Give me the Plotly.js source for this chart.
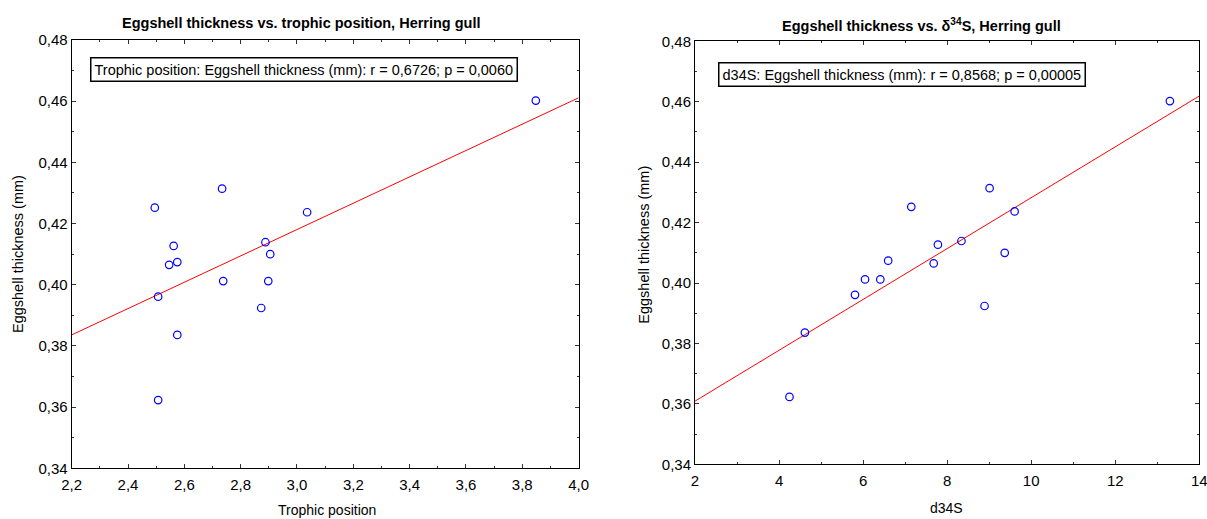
<!DOCTYPE html>
<html>
<head>
<meta charset="utf-8">
<script src="https://cdn.plot.ly/plotly-3.0.1.min.js"></script>
<style>html,body{margin:0;padding:0;background:#fff;}#chart{width:1207px;height:519px;}</style>
</head>
<body>
<div id="chart"></div>
<script>
// Eggshell thickness (mm), one value per egg
const thickness = [0.4602, 0.4252, 0.4314, 0.4237, 0.4127, 0.4139, 0.4100, 0.4065, 0.4074, 0.4012, 0.4012, 0.3961, 0.3924, 0.3836, 0.3623];
// Trophic position of the same eggs
const trophicPosition = [3.848, 2.495, 2.734, 3.036, 2.562, 2.888, 2.905, 2.546, 2.575, 2.738, 2.898, 2.507, 2.873, 2.575, 2.507];
// d34S of the same eggs
const d34S = [13.30, 7.147, 9.01, 9.606, 7.78, 8.34, 9.37, 7.68, 6.597, 6.046, 6.41, 5.807, 8.89, 4.615, 4.248];
// Regression lines (end points)
const fitTrophicX = [2.2, 4.0];
const fitTrophicY = [0.3836, 0.4611];
const fitD34SX = [2, 14];
const fitD34SY = [0.3609, 0.4619];
// Texts
const titleLeft = "<b>Eggshell thickness vs. trophic position, Herring gull</b>";
const titleRight = "<b>Eggshell thickness vs. δ<sup>34</sup>S, Herring gull</b>";
const statLeft = "Trophic position: Eggshell thickness (mm): r = 0,6726; p = 0,0060";
const statRight = "d34S: Eggshell thickness (mm): r = 0,8568; p = 0,00005";
const xTitleLeft = "Trophic position";
const xTitleRight = "d34S";
const yTitle = "Eggshell thickness (mm)";

const FONT = "Arial, 'Liberation Sans', sans-serif";
const W = 1207, H = 519;
const px = v => v / W;
const py = v => 1 - v / H;

const markerStyle = {symbol: 'circle-open', size: 7.5, color: '#0000ff', line: {width: 1.2, color: '#0000ff'}};
const lineStyle = {color: '#ff0000', width: 1};

const traces = [
  {x: fitTrophicX, y: fitTrophicY, mode: 'lines', line: lineStyle, xaxis: 'x', yaxis: 'y', hoverinfo: 'skip'},
  {x: trophicPosition, y: thickness, mode: 'markers', marker: markerStyle, xaxis: 'x', yaxis: 'y'},
  {x: fitD34SX, y: fitD34SY, mode: 'lines', line: lineStyle, xaxis: 'x2', yaxis: 'y2', hoverinfo: 'skip'},
  {x: d34S, y: thickness, mode: 'markers', marker: markerStyle, xaxis: 'x2', yaxis: 'y2'}
];

function axis(extra) {
  return Object.assign({
    showline: true, linecolor: '#000', linewidth: 1, mirror: 'allticks',
    ticks: 'inside', ticklen: 4, tickcolor: '#333', tickwidth: 1,
    showgrid: false, zeroline: false, fixedrange: true,
    ticklabeloverflow: 'allow',
    tickfont: {family: FONT, size: 15, color: '#000'}
  }, extra);
}

const layout = {
  width: W, height: H,
  margin: {l: 0, r: 0, t: 0, b: 0},
  paper_bgcolor: '#fff', plot_bgcolor: '#fff',
  showlegend: false,
  separators: ', ',
  font: {family: FONT, color: '#000'},
  xaxis: axis({domain: [px(71.7), px(578.6)], range: [2.2, 4.0], dtick: 0.2, tick0: 2.2, tickformat: '.1f', anchor: 'y',
    ticklabelstandoff: 3,
    minor: {dtick: 0.1, ticks: 'inside', ticklen: 2, tickcolor: '#333'}}),
  yaxis: axis({domain: [py(468.3), py(40)], range: [0.34, 0.48], dtick: 0.02, tick0: 0.34, tickformat: '.2f', anchor: 'x',
    minor: {dtick: 0.01, ticks: 'inside', ticklen: 2, tickcolor: '#333'}}),
  xaxis2: axis({domain: [px(695), px(1199.3)], range: [2, 14], dtick: 2, tick0: 2, tickformat: 'd', anchor: 'y2',
    ticklabelstandoff: 3,
    minor: {dtick: 1, ticks: 'inside', ticklen: 2, tickcolor: '#333'}}),
  yaxis2: axis({domain: [py(464.3), py(41.3)], range: [0.34, 0.48], dtick: 0.02, tick0: 0.34, tickformat: '.2f', anchor: 'x2',
    minor: {dtick: 0.01, ticks: 'inside', ticklen: 2, tickcolor: '#333'}}),
  annotations: [
    {text: titleLeft, xref: 'paper', yref: 'paper', x: px(301), y: py(22.7), xanchor: 'center', yanchor: 'middle', showarrow: false, font: {family: FONT, size: 14.5, color: '#000'}},
    {text: titleRight, xref: 'paper', yref: 'paper', x: px(921.5), y: py(25), xanchor: 'center', yanchor: 'middle', showarrow: false, font: {family: FONT, size: 14.5, color: '#000'}},
    {text: statLeft, xref: 'paper', yref: 'paper', x: px(303.9), y: py(69.8), xanchor: 'center', yanchor: 'middle', showarrow: false,
      bordercolor: '#000', borderwidth: 1.5, borderpad: 3, bgcolor: '#fff', font: {family: FONT, size: 14.5, color: '#000'}},
    {text: statRight, xref: 'paper', yref: 'paper', x: px(902.4), y: py(75), xanchor: 'center', yanchor: 'middle', showarrow: false,
      bordercolor: '#000', borderwidth: 1.5, borderpad: 3, bgcolor: '#fff', font: {family: FONT, size: 14.5, color: '#000'}},
    {text: xTitleLeft, xref: 'paper', yref: 'paper', x: px(326.5), y: py(510), xanchor: 'center', yanchor: 'middle', showarrow: false, font: {family: FONT, size: 14, color: '#000'}},
    {text: xTitleRight, xref: 'paper', yref: 'paper', x: px(946.6), y: py(508), xanchor: 'center', yanchor: 'middle', showarrow: false, font: {family: FONT, size: 14, color: '#000'}},
    {text: yTitle, xref: 'paper', yref: 'paper', x: px(18), y: py(254), xanchor: 'center', yanchor: 'middle', textangle: -90, showarrow: false, font: {family: FONT, size: 14.5, color: '#000'}},
    {text: yTitle, xref: 'paper', yref: 'paper', x: px(643.7), y: py(245), xanchor: 'center', yanchor: 'middle', textangle: -90, showarrow: false, font: {family: FONT, size: 14.5, color: '#000'}}
  ]
};

Plotly.newPlot('chart', traces, layout, {staticPlot: true, displayModeBar: false});
</script>
</body>
</html>
